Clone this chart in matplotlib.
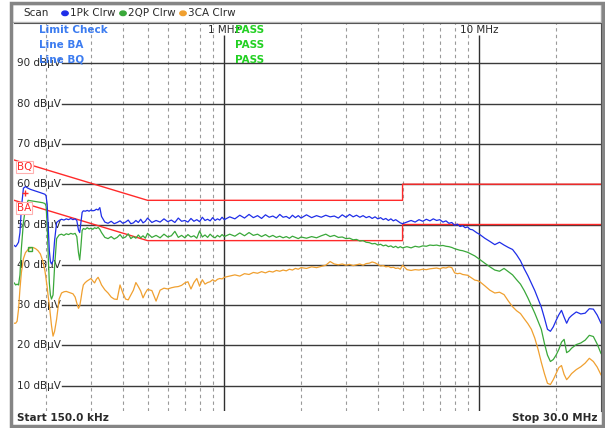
import matplotlib.pyplot as plt
from matplotlib.patches import Rectangle

# sweep points (MHz) shared by the three traces
freq_mhz = [
    0.150, 0.152, 0.154, 0.156, 0.158, 0.160, 0.163, 0.166, 0.170, 0.174,
    0.178, 0.182, 0.186, 0.190, 0.194, 0.198, 0.200, 0.202, 0.204, 0.206,
    0.208, 0.210, 0.213, 0.216, 0.220, 0.225, 0.230, 0.235, 0.240, 0.245,
    0.250, 0.255, 0.260, 0.264, 0.268, 0.271, 0.274, 0.277, 0.280, 0.285,
    0.290, 0.295, 0.300, 0.305, 0.310, 0.315, 0.320, 0.325,
    0.33, 0.34, 0.35, 0.36, 0.37, 0.38, 0.39, 0.40, 0.41, 0.42, 0.43, 0.44,
    0.45, 0.46, 0.47, 0.48, 0.49, 0.50,
    0.52, 0.54, 0.56, 0.58, 0.60, 0.62, 0.64, 0.66, 0.68, 0.70, 0.72, 0.74,
    0.76, 0.78, 0.80, 0.82, 0.84, 0.86, 0.88, 0.90, 0.92, 0.94, 0.96, 0.98, 1.00,
    1.05, 1.10, 1.15, 1.20, 1.25, 1.30, 1.35, 1.40, 1.45, 1.50,
    1.55, 1.60, 1.65, 1.70, 1.75, 1.80, 1.85, 1.90, 1.95, 2.00,
    2.1, 2.2, 2.3, 2.4, 2.5, 2.6, 2.7, 2.8, 2.9, 3.0,
    3.1, 3.2, 3.3, 3.4, 3.5, 3.6, 3.7, 3.8, 3.9, 4.0,
    4.1, 4.2, 4.3, 4.4, 4.5, 4.6, 4.7, 4.8, 4.9, 5.0,
    5.2, 5.4, 5.6, 5.8, 6.0, 6.2, 6.4, 6.6, 6.8, 7.0, 7.2, 7.4, 7.6,
    7.8, 8.0, 8.2, 8.4, 8.6, 8.8, 9.0, 9.2, 9.4, 9.6, 9.8, 10.0,
    10.5, 11.0, 11.5, 12.0, 12.5, 13.0, 13.5, 14.0, 14.5, 15.0,
    15.5, 16.0, 16.5, 17.0, 17.5, 18.0, 18.5, 19.0, 19.5, 20.0,
    20.5, 21.0, 21.5, 22.0, 22.5, 23.0, 24.0, 25.0, 26.0, 27.0, 28.0, 29.0, 30.0,
]

# 1Pk Clrw (blue)
peak_dbuv = [
    44.8, 44.5, 45.0, 45.6, 48.0, 54.0, 59.0, 59.4, 59.0, 58.7,
    58.5, 58.3, 58.1, 57.9, 57.7, 57.5, 57.1, 55.0, 49.0, 43.5,
    40.8, 40.2, 41.0, 46.0, 50.5, 51.0, 51.3, 51.1, 51.4, 51.2,
    51.5, 51.2, 51.4, 51.0, 48.6, 48.0, 50.5, 53.0, 53.4, 53.3,
    53.5, 53.3, 53.6, 53.4, 53.5, 53.8, 53.6, 54.2,
    52.0, 50.6, 50.3, 50.8, 50.2, 50.5, 50.9, 50.3, 50.6, 51.1, 50.2, 50.4,
    51.0, 50.5, 51.3, 50.4, 50.8, 51.6,
    50.5, 51.0, 50.6, 51.4, 50.7, 51.1, 50.5, 51.6, 50.8, 51.0, 50.6, 51.5,
    50.8, 51.2, 50.7, 51.8, 51.0, 51.3, 50.9, 51.7, 51.0, 51.4, 51.1, 51.8, 51.2,
    51.9, 51.4, 52.3, 51.6, 52.5, 51.7, 52.2, 51.5, 52.4, 51.8,
    52.1, 51.6, 52.5, 51.8, 52.0, 51.5, 52.3, 51.7, 52.2, 51.6,
    52.4, 51.7, 52.2, 51.8, 52.3, 51.9, 52.1, 51.6, 52.4, 51.8,
    52.5, 51.9, 52.3, 51.8, 52.2, 51.7, 52.0, 51.5, 51.9, 51.4,
    51.7, 51.2, 51.5, 51.0, 51.4, 50.9, 51.2, 50.8, 50.4, 50.2,
    50.6, 51.0, 50.6, 51.2, 50.8, 51.3, 50.9, 51.4, 51.0, 51.2, 50.6, 50.9, 50.3,
    50.5, 49.8, 50.1, 49.5, 49.7, 49.2, 49.4, 48.8, 48.7, 48.3, 47.9, 47.6,
    46.6, 45.8, 45.0, 45.6, 44.9, 44.3, 43.8, 42.5, 41.0, 39.0,
    37.3, 35.4, 33.6, 31.5, 29.5, 26.8, 24.0, 23.5, 24.6, 26.2,
    27.6, 28.7, 27.0, 25.5, 26.8, 27.4, 28.3, 27.8, 28.0, 29.1, 29.0, 27.5, 25.5,
]

# 2QP Clrw (green)
qp_dbuv = [
    35.5, 35.0, 35.2, 35.0, 37.5, 44.0, 50.5, 54.0, 56.0, 55.9,
    55.8, 55.7, 55.6, 55.5, 55.4, 55.2, 54.6, 50.0, 42.0, 35.5,
    32.5, 31.5, 32.5, 39.5, 46.5, 47.4, 47.6, 47.3, 47.7, 47.5,
    47.8, 47.6, 47.8, 47.0, 43.0, 41.2, 44.5, 48.5, 49.0, 48.8,
    49.2, 48.9, 49.1, 48.8, 49.2, 49.0, 49.3, 48.8,
    48.0, 46.8, 46.5, 47.0, 46.4, 46.8, 47.5, 46.6, 46.9, 47.7, 46.5, 47.0,
    46.6, 47.4, 46.7, 47.2, 46.6, 47.8,
    46.8, 47.3, 46.7, 47.6, 46.9, 47.2, 48.3, 46.8, 47.3, 46.7, 47.5, 46.9,
    47.2, 46.6, 48.4, 46.9, 47.4, 46.8, 47.6, 47.0, 46.7, 47.3, 46.9, 47.5, 47.0,
    47.6, 47.1, 47.9, 47.2, 48.0, 47.3, 47.6, 47.0, 47.5, 46.9,
    47.3, 46.8, 47.1, 46.7, 47.0, 46.6, 47.1, 46.8, 46.5, 46.9,
    46.6, 47.0, 46.7, 47.2, 47.6, 47.0, 47.3, 46.8, 46.9, 46.5,
    46.6, 46.2, 46.3, 45.9, 46.0, 45.6, 45.5, 45.2, 45.3, 44.9,
    45.1, 44.7, 44.9, 44.5, 44.7, 44.3, 44.6, 44.2, 44.5, 44.2,
    44.5, 44.2, 44.6, 44.4, 44.7, 44.6, 44.9, 44.8, 44.9, 44.7, 44.8, 44.6, 44.5,
    44.3, 44.0, 43.8, 43.6, 43.5, 43.3, 43.1, 42.8, 42.5, 42.2, 41.8, 41.4,
    40.4, 39.5, 38.7, 38.4, 39.1, 38.3, 37.5, 36.3, 35.2, 33.6,
    31.8, 29.9, 28.0, 26.0, 24.0, 20.5, 17.6, 16.0, 16.5, 17.6,
    19.0, 20.8, 21.5, 18.2, 18.6, 19.3, 20.2, 20.6, 21.3, 22.5, 22.2, 20.3, 18.0,
]

# 3CA Clrw (orange)
avg_dbuv = [
    25.5, 25.5, 26.0, 29.0, 34.0, 38.0, 41.5, 43.0, 43.8, 44.2,
    44.3, 44.0, 43.5, 42.7, 41.0, 38.5, 36.5, 34.5, 32.0, 30.0,
    27.5, 25.0, 22.3, 23.5, 26.5, 31.5, 33.0, 33.3, 33.4, 33.2,
    33.0, 32.8, 32.0, 30.5, 29.2, 29.8, 31.5, 33.5, 35.0, 35.6,
    36.0, 36.3, 36.6, 36.0, 35.5, 36.4, 36.9, 36.0,
    35.0, 33.8, 33.0, 32.0, 31.5, 31.4, 35.0, 33.0, 31.5, 31.3, 32.5, 33.7,
    35.6, 34.6, 33.5, 31.8, 33.0, 33.9,
    33.6, 31.0, 33.7, 34.2, 34.0, 34.3, 34.5, 34.6, 34.9, 35.5, 35.8, 34.0,
    35.6, 36.6, 34.7, 36.3, 35.2, 35.6, 35.8, 36.3, 35.9, 36.4, 36.6, 36.5, 36.9,
    37.2, 37.5, 37.2, 37.8, 37.6, 38.1, 37.9, 38.3, 38.0, 38.4,
    38.2, 38.6, 38.4, 38.7, 38.5, 38.9, 38.7, 39.1, 38.9, 39.3,
    39.1, 39.5, 39.3, 39.6, 39.9, 40.8, 40.2, 40.0, 40.2, 39.9,
    40.1, 39.8, 40.0, 40.2, 39.9, 40.3, 40.4, 40.7, 40.5, 40.1,
    39.7, 39.8, 39.5, 39.6, 39.3, 39.4, 39.1, 39.2, 38.9, 39.9,
    38.8, 38.6, 38.8, 38.7, 38.9, 38.8, 39.0, 39.1, 39.2, 39.0, 39.3, 39.2, 39.5,
    39.3, 38.0, 37.8, 37.9, 37.6, 37.5, 37.4, 37.0, 36.6, 36.2, 36.1, 35.9,
    34.8, 33.7, 33.0, 33.2, 32.6, 31.0, 29.6, 28.6, 27.9, 26.6,
    25.4, 24.0, 21.8, 19.0, 15.8, 13.0, 10.6, 10.3, 11.5, 13.0,
    14.5, 15.0, 12.8, 11.5, 12.2, 13.0, 14.0, 14.7, 15.6, 16.8, 16.0, 14.6, 12.7,
]

# CISPR class B limit lines
limit_freq = [0.15, 0.5, 5.0, 5.0, 30.0]
bq_dbuv = [66, 56, 56, 60, 60]
ba_dbuv = [56, 46, 46, 50, 50]

grid_levels = [10, 20, 30, 40, 50, 60, 70, 80, 90]
minor_freqs = [0.2, 0.3, 0.4, 0.5, 0.6, 0.7, 0.8, 0.9,
               2, 3, 4, 5, 6, 7, 8, 9, 20]
major_freqs = [1, 10]
major_labels = ["1 MHz", "10 MHz"]

assert len(freq_mhz) == len(peak_dbuv) == len(qp_dbuv) == len(avg_dbuv)

W, H = 605, 428
BLUE, GREEN, ORANGE, RED = "#1f2ee8", "#3aa83a", "#f0a030", "#ff2a2a"
TXT = "#2a2a2a"

plt.rcParams["font.family"] = ["DejaVu Sans"]
fig = plt.figure(figsize=(W / 100, H / 100), dpi=100)
fig.patch.set_facecolor("white")


def fx(x):
    return x / W


def fy(y):
    return 1 - y / H


# plot area in pixels: x 14.2..601, y 23..410.5
ax = fig.add_axes([fx(14.2), fy(410.5), fx(601 - 14.2), (410.5 - 23) / H])
ax.set_xscale("log")
ax.set_xlim(0.15, 30)
ax.set_ylim(100 - (410.5 - 23) / 4.03, 100)
ax.set_xticks([])
ax.set_yticks([])
ax.minorticks_off()
for s in ["left", "bottom"]:
    ax.spines[s].set_visible(False)
ax.spines["top"].set_color("#404040")
ax.spines["right"].set_color("#404040")

# grid
for f in minor_freqs:
    ax.axvline(f, color="#9a9a9a", lw=0.8, ls=(0, (3, 3)), zorder=1)
for f, lab in zip(major_freqs, major_labels):
    ax.vlines(f, ax.get_ylim()[0], 97.0, color="#303030", lw=1.0, zorder=1)
    ax.text(f, 98.3, lab, ha="center", va="center", fontsize=7.5, color=TXT)
for lv in grid_levels:
    ax.axhline(lv, xmin=0.081, color="#3a3a3a", lw=1.0, zorder=1)
    ax.text(0.079, lv, f"{lv} dBµV", transform=ax.get_yaxis_transform(),
            ha="right", va="center", fontsize=7.5, color=TXT)

# limit lines
ax.plot(limit_freq, bq_dbuv, color=RED, lw=1.0, zorder=2)
ax.plot(limit_freq, ba_dbuv, color=RED, lw=1.0, zorder=2)
for lv, lab in [(64.3, "BQ"), (54.1, "BA")]:
    ax.text(0.005, lv, lab, transform=ax.get_yaxis_transform(), ha="left",
            va="center", fontsize=7.5, color=RED, zorder=7,
            bbox=dict(facecolor="white", edgecolor="#ffb0b0", pad=0.6, lw=0.8))

# traces
ax.plot(freq_mhz, avg_dbuv, color=ORANGE, lw=0.9, zorder=3)
ax.plot(freq_mhz, qp_dbuv, color=GREEN, lw=0.9, zorder=4)
ax.plot(freq_mhz, peak_dbuv, color=BLUE, lw=0.9, zorder=5)
ax.plot([0.173], [43.9], marker="s", ms=3, mfc="none", mec=GREEN, zorder=6)
ax.plot([0.166], [57.7], marker="+", ms=4, color=RED, zorder=6)

# limit check block
for y, s in [(30, "Limit Check"), (44.5, "Line BA"), (60, "Line BQ")]:
    fig.text(fx(39), fy(y), s, color="#3c7cf0", fontsize=7.5,
             fontweight="bold", va="center", ha="left")
    fig.text(fx(235), fy(y), "PASS", color="#22d022", fontsize=7.5,
             fontweight="bold", va="center", ha="left")

# header
fig.add_artist(Rectangle((fx(12), fy(22)), fx(589), 18 / H,
                         transform=fig.transFigure, fill=False,
                         edgecolor="#b4b4b4", lw=1.0))
fig.text(fx(23), fy(13), "Scan", fontsize=7.5, color=TXT, va="center")
for x, c, lab in [(65, BLUE, "1Pk Clrw"), (123, GREEN, "2QP Clrw"),
                  (183, ORANGE, "3CA Clrw")]:
    fig.add_artist(plt.Circle((fx(x), fy(13.3)), 3.2 / W,
                              transform=fig.transFigure, color=c))
    fig.text(fx(x + 5), fy(13), lab, fontsize=7.5, color=TXT, va="center")

# footer
fig.text(fx(17), fy(418), "Start 150.0 kHz", fontsize=7.5, fontweight="bold",
         color=TXT, va="center", ha="left")
fig.text(fx(597), fy(418), "Stop 30.0 MHz", fontsize=7.5, fontweight="bold",
         color=TXT, va="center", ha="right")

# outer frame
fig.add_artist(Rectangle((fx(11.5), fy(425.5)), fx(591), 423 / H,
                         transform=fig.transFigure, fill=False,
                         edgecolor="#858585", lw=2.5))

fig.savefig("out.png", dpi=100)
